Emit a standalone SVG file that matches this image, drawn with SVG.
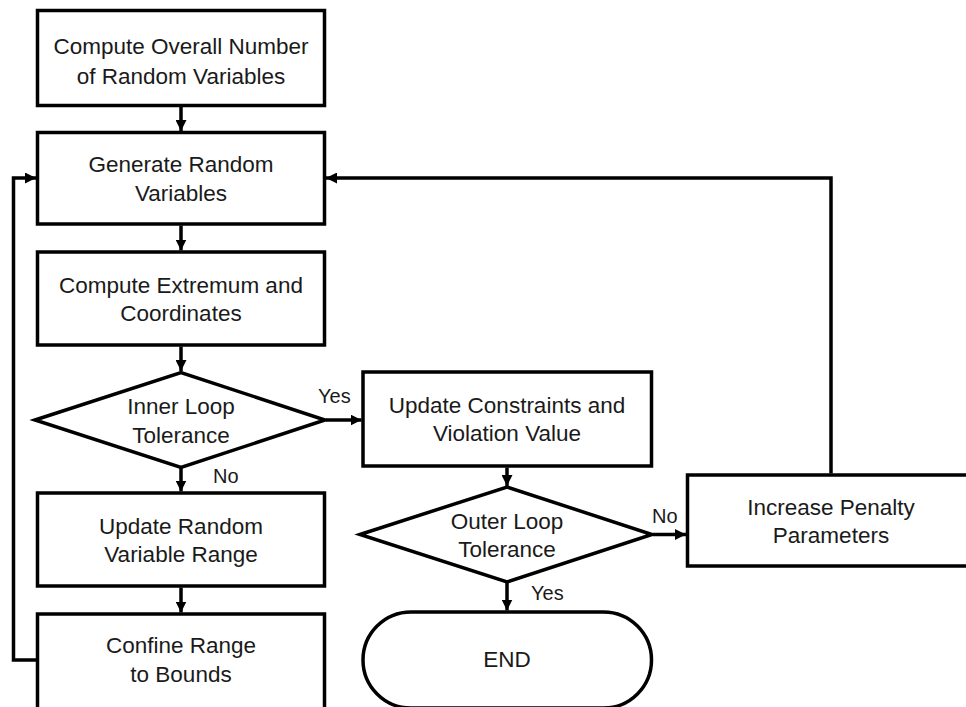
<svg xmlns="http://www.w3.org/2000/svg" width="966" height="707" viewBox="0 0 966 707">
<style>
.box{fill:#fff;stroke:#000;stroke-width:3.5}
.t{font-family:"Liberation Sans",Arial,sans-serif;font-size:22.5px;fill:#1a1a1a;text-anchor:middle}
.lbl{font-family:"Liberation Sans",Arial,sans-serif;font-size:20px;fill:#1a1a1a}
.c{fill:none;stroke:#000;stroke-width:3.5;marker-end:url(#ah)}
</style>
<defs>
<marker id="ah" markerUnits="userSpaceOnUse" markerWidth="12" markerHeight="11" refX="11" refY="5.5" orient="auto">
<path d="M0,0 L11,5.5 L0,11 z" fill="#000"/>
</marker>
</defs>
<rect width="966" height="707" fill="#fff"/>
<g id="n1"><rect class="box" x="37.5" y="10.5" width="287" height="95"/>
<text class="t" x="181" y="54">Compute Overall Number</text><text class="t" x="181" y="84">of Random Variables</text></g>
<g id="n2"><rect class="box" x="37.5" y="132.5" width="287" height="91.5"/>
<text class="t" x="181" y="172">Generate Random</text><text class="t" x="181" y="201">Variables</text></g>
<g id="n3"><rect class="box" x="37.5" y="252" width="287" height="93"/>
<text class="t" x="181" y="293">Compute Extremum and</text><text class="t" x="181" y="321">Coordinates</text></g>
<g id="d1"><polygon class="box" points="35,420 181,372.5 325,420 181,467.5"/>
<text class="t" x="181" y="414">Inner Loop</text><text class="t" x="181" y="443">Tolerance</text></g>
<g id="n4"><rect class="box" x="37.5" y="493" width="287" height="93"/>
<text class="t" x="181" y="534">Update Random</text><text class="t" x="181" y="562">Variable Range</text></g>
<g id="n5"><rect class="box" x="37.5" y="614" width="287" height="100"/>
<text class="t" x="181" y="653">Confine Range</text><text class="t" x="181" y="682">to Bounds</text></g>
<g id="n6"><rect class="box" x="363" y="372" width="288.5" height="94"/>
<text class="t" x="507" y="413">Update Constraints and</text><text class="t" x="507" y="441">Violation Value</text></g>
<g id="d2"><polygon class="box" points="360,534.5 507,487 652,534.5 507,582"/>
<text class="t" x="507" y="529">Outer Loop</text><text class="t" x="507" y="557">Tolerance</text></g>
<g id="n7"><rect class="box" x="687.5" y="475" width="290" height="91"/>
<text class="t" x="831" y="515">Increase Penalty</text><text class="t" x="831" y="543">Parameters</text></g>
<g id="end"><rect class="box" x="363" y="612" width="288.5" height="96" rx="48" ry="48"/>
<text class="t" x="507" y="667">END</text></g>
<g id="connectors">
<path class="c" d="M181 107 V131"/>
<path class="c" d="M181 225.5 V250.5"/>
<path class="c" d="M181 346.5 V371"/>
<path class="c" d="M181 468 V491.5"/>
<path class="c" d="M181 587.5 V612.5"/>
<path class="c" d="M36 660 H13.5 V178 H36"/>
<path class="c" d="M326 420 H361.5"/>
<path class="c" d="M507 467.5 V486"/>
<path class="c" d="M653 534.5 H686"/>
<path class="c" d="M507 583 V610.5"/>
<path class="c" d="M831 473.5 V178 H326"/>
<text class="lbl" x="318" y="403">Yes</text>
<text class="lbl" x="213" y="483">No</text>
<text class="lbl" x="652" y="523">No</text>
<text class="lbl" x="531" y="600">Yes</text>
</g>
</svg>
